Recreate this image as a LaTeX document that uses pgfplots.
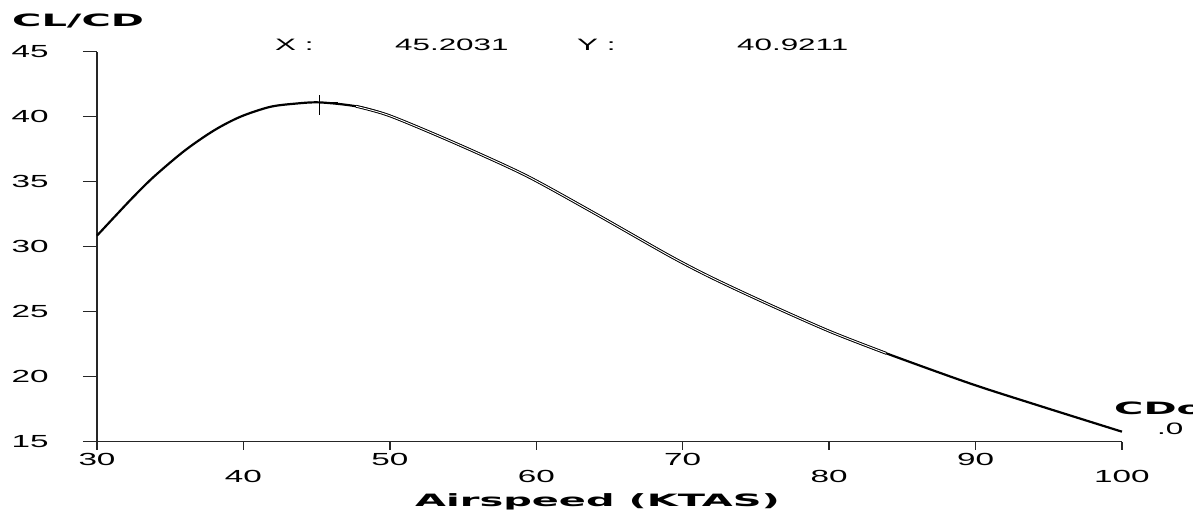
\documentclass[border=0pt]{standalone}
\usepackage{fontspec}
\usepackage{pgfplots}
\pgfplotsset{compat=1.18}
\newfontfamily\rfont{Liberation Sans}[FakeStretch=1.9]
\newfontfamily\bfont{DejaVu Sans}[FakeStretch=2.35]
\newcommand{\rsz}{\rfont\fontsize{16.5bp}{18bp}\selectfont}
\newcommand{\tsz}{\rfont\fontsize{17.5bp}{19bp}\selectfont}
\newcommand{\bsz}{\bfont\bfseries\fontsize{17bp}{19bp}\selectfont}
\pgfdeclareplotmark{crosshair}{%
  \pgfpathmoveto{\pgfqpoint{-18bp}{0bp}}\pgfpathlineto{\pgfqpoint{18bp}{0bp}}%
  \pgfpathmoveto{\pgfqpoint{0bp}{7bp}}\pgfpathlineto{\pgfqpoint{0bp}{-13bp}}%
  \pgfusepathqstroke}
\begin{document}
\begin{tikzpicture}
\useasboundingbox (0,0) rectangle (1193bp,510bp);
\begin{axis}[
  at={(97bp,68.3bp)}, anchor=south west,
  scale only axis, width=1025bp, height=390bp,
  xmin=30, xmax=100, ymin=15, ymax=45,
  axis lines*=left,
  axis line style={line width=1.6bp, black!85},
  tick align=outside,
  tick style={line width=1.4bp, black!85},
  xtick={30,50,70,90},
  extra x ticks={40,60,80,100},
  extra x tick style={tick label style={yshift=-13bp}, /pgfplots/major tick length=8bp},
  xtick style={/pgfplots/major tick length=8bp},
  ytick={15,20,25,30,35,40,45},
  ytick style={/pgfplots/major tick length=14bp},
  /pgf/number format/assume math mode=true,
  xticklabel style={font=\tsz, inner sep=0pt, anchor=north, yshift=-7bp},
  yticklabel style={font=\tsz, inner sep=0pt, anchor=east, xshift=-44bp},
  clip=false,
]
\addplot[black, line width=2.2bp, smooth] coordinates {
 (30,30.85) (31.2,32.3) (32.5,33.85) (33.9,35.4) (36,37.4) (38,38.95)
 (39.8,40.0) (41.8,40.75) (43.5,41.0) (45.2,41.1) (47.7,40.8) (49.8,40.15)
 (52.75,38.8) (56.2,37.1) (59.6,35.3) (64.1,32.5) (69.1,29.3)
 (72.1,27.55) (76,25.5) (80.1,23.46) (83.9,21.8) (89.6,19.49) (94.2,17.82)
 (100,15.77)
};
\addplot[black, line width=2.8bp, smooth] coordinates {
 (47.7,40.8) (49.8,40.15) (52.75,38.8) (56.2,37.1) (59.6,35.3)
 (64.1,32.5) (69.1,29.3) (72.1,27.55) (76,25.5) (80.1,23.46) (83.9,21.8)
};
\addplot[white, line width=0.9bp, smooth] coordinates {
 (47.7,40.8) (49.8,40.15) (52.75,38.8) (56.2,37.1) (59.6,35.3)
 (64.1,32.5) (69.1,29.3) (72.1,27.55) (76,25.5) (80.1,23.46) (83.9,21.8)
};
\addplot[black, line width=1.2bp, only marks, mark=crosshair] coordinates {(45.2031,41.1)};
\end{axis}
\node[anchor=base west, inner sep=0pt] at (12bp,483bp) {\bsz CL/CD};
\node[anchor=base west, inner sep=0pt] at (275bp,459bp) {\rsz X :};
\node[anchor=base west, inner sep=0pt] at (395bp,459bp) {\rsz 45.2031};
\node[anchor=base west, inner sep=0pt] at (577bp,459bp) {\rsz Y :};
\node[anchor=base west, inner sep=0pt] at (737bp,459bp) {\rsz 40.9211};
\node[anchor=base west, inner sep=0pt] at (415bp,4bp) {\bsz Airspeed (KTAS)};
\node[anchor=base west, inner sep=0pt] at (1114bp,95bp) {\bsz CDo};
\node[anchor=base west, inner sep=0pt] at (1157bp,75bp) {\rsz .0};
\end{tikzpicture}
\end{document}
